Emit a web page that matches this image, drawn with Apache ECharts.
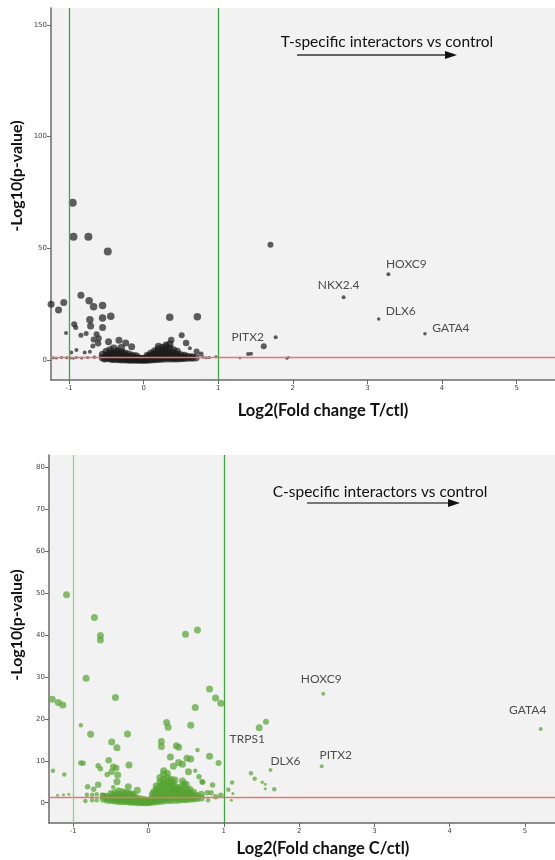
<!DOCTYPE html>
<html><head><meta charset="utf-8">
<script src="https://cdn.jsdelivr.net/npm/echarts@6/dist/echarts.min.js"></script>
<style>html,body{margin:0;padding:0;background:#fff}#c{width:555px;height:860px}</style>
</head><body><div id="c"></div>
<script>
// ---------- DATA ----------
const xTicks = [-1, 0, 1, 2, 3, 4, 5];
const yTicksT = [0, 50, 100, 150];
const yTicksC = [0, 10, 20, 30, 40, 50, 60, 70, 80];
const pThreshold = 1.3;
const foldLines = [-1, 1];

// T chart: [log2FC, -log10 p, size]
const topPoints = [
 [-0.95,70.4,8],[-0.94,55.2,8],[-0.74,55.2,8],[-0.48,48.6,8],
 [-0.84,29,7],[-0.73,26.5,7.5],[-0.67,23.8,7.5],[-0.55,24.4,7.5],
 [-1.24,25,7],[-1.14,22.4,7],[-1.07,25.7,7],
 [-0.72,18,7.5],[-0.55,18.8,7.5],[-0.44,19.6,7.5],[0.35,19.1,7.5],[0.72,19.4,7.5],
 [-0.93,16,6],[-0.91,14.6,5],[-0.71,15.2,7],[-0.55,14.6,7],
 [-1.04,12.1,4],[-0.84,11.1,5],[-0.77,11.9,5],[-0.63,11.5,6],
 [0.51,11.1,6],[0.37,9,6.5],[-0.67,9.2,6],[-0.60,9.7,6],[-0.61,7.5,6.5],[-0.47,8.2,7],
 [-0.33,8.8,7],[-0.24,7.6,7],[-0.16,5.9,7],[-0.68,6.3,5],[0.57,7.6,6.5],[0.30,6.7,7],
 [0.71,3.8,6],[0.62,5.2,4],[0.77,2.7,5],
 [-0.90,4.5,4],[-0.97,3.3,4],[-0.79,3.3,4],[-0.72,3.7,4],
 [-1.21,1.0,3],[-1.10,1.1,3],[-1.03,1.0,3],[-0.98,0.9,3],[-0.90,1.1,3],[-0.83,0.9,3],
 [-0.75,1.1,3],[-0.66,1.2,3.5],[-0.57,1.2,3.5],[-1.17,0.8,2.5],[-0.94,0.7,2.5],
 [0.80,1.2,3],[0.84,1.0,3],[0.88,1.1,3],[0.97,1.5,3],
 [1.29,0.9,2.5],[1.40,2.7,4],[1.44,2.8,4],[1.77,10.2,4],[1.70,51.6,6],[1.92,0.8,3],[1.94,1.2,2.5]
];
const topCloud = [
 [-0.55,1.0],[-0.55,2.5],[-0.52,0.6],[-0.50,0.8],[-0.50,2.0],[-0.50,3.8],[-0.47,1.2],
 [-0.45,0.5],[-0.45,1.8],[-0.45,3.0],[-0.45,4.5],[-0.42,0.4],[-0.42,2.2],
 [-0.40,0.3],[-0.40,1.5],[-0.40,2.8],[-0.40,5.2],[-0.37,0.9],[-0.37,3.4],
 [-0.35,0.2],[-0.35,1.2],[-0.35,2.5],[-0.35,4.0],[-0.32,0.5],[-0.32,1.8],
 [-0.30,0.1],[-0.30,1.0],[-0.30,2.2],[-0.30,3.5],[-0.30,5.5],[-0.27,0.4],[-0.27,2.6],
 [-0.25,0.1],[-0.25,0.8],[-0.25,1.8],[-0.25,3.0],[-0.22,0.3],[-0.22,1.2],
 [-0.20,0.0],[-0.20,0.6],[-0.20,1.5],[-0.20,2.6],[-0.17,0.2],[-0.17,1.0],
 [-0.15,0.0],[-0.15,0.5],[-0.15,1.2],[-0.15,2.0],[-0.12,0.2],[-0.12,0.8],
 [-0.10,0.0],[-0.10,0.4],[-0.10,1.0],[-0.10,1.8],[-0.07,0.1],[-0.07,0.6],
 [-0.05,0.0],[-0.05,0.3],[-0.05,0.8],[-0.02,0.1],[-0.02,0.4],
 [0.00,0.0],[0.00,0.2],[0.00,0.6],[0.02,0.1],[0.02,0.5],
 [0.05,0.0],[0.05,0.4],[0.05,1.0],[0.05,2.0],[0.07,0.2],[0.07,1.4],
 [0.10,0.1],[0.10,0.8],[0.10,1.8],[0.10,3.0],[0.12,0.4],[0.12,2.3],
 [0.15,0.2],[0.15,1.2],[0.15,2.5],[0.15,4.0],[0.17,0.6],[0.17,3.2],
 [0.20,0.3],[0.20,1.5],[0.20,3.0],[0.20,4.8],[0.20,6.0],[0.22,0.8],[0.22,2.2],
 [0.25,0.4],[0.25,1.8],[0.25,3.5],[0.25,5.5],[0.27,1.0],[0.27,2.7],[0.27,4.4],
 [0.30,0.5],[0.30,2.0],[0.30,3.8],[0.30,5.8],[0.32,1.2],[0.32,3.0],
 [0.35,0.5],[0.35,1.8],[0.35,3.5],[0.35,5.2],[0.35,7.0],[0.37,1.0],[0.37,2.6],
 [0.40,0.6],[0.40,1.5],[0.40,3.0],[0.40,4.5],[0.42,0.9],[0.42,2.1],
 [0.45,0.6],[0.45,1.4],[0.45,2.5],[0.45,3.8],[0.47,1.0],
 [0.50,0.7],[0.50,1.3],[0.50,2.2],[0.52,1.0],
 [0.55,0.8],[0.55,1.2],[0.55,2.0],
 [0.60,0.9],[0.60,1.5],[0.65,0.9],[0.65,1.3],[0.70,1.0]
];
// labelled genes: [name, log2FC, -log10 p, size]
const topGenes = [
 ['HOXC9',3.28,38.4,4],['NKX2.4',2.68,28.1,4],['DLX6',3.15,18.4,3.5],
 ['GATA4',3.77,11.8,3.5],['PITX2',1.61,6.1,6]
];

// C chart
const botPoints = [
 [-1.09,49.6,7],[-0.72,44.2,7],[-0.64,39.9,7],[-0.64,38.8,7],[0.49,40.2,7],[0.65,41.2,7],
 [-0.83,29.7,7],[-1.28,24.7,7],[-1.20,23.9,7],[-1.14,23.3,7],[-0.44,25.1,7],
 [0.81,27.1,7],[0.89,25.0,7],[0.96,23.7,7],[0.62,22.7,7],
 [0.24,19.1,7],[0.26,18.0,7],[0.56,18.5,7],[-0.90,18.5,4.5],[-0.77,16.3,7],[-0.28,16.4,7],
 [-0.49,14.5,7],[-0.42,13.1,7],[0.17,14.6,7],[0.17,13.4,7],[0.37,13.6,7],[0.40,13.2,7],[0.65,12.6,4.5],
 [0.81,11.1,7],[0.29,10.9,7],[0.51,10.6,7],[0.56,10.4,7],[0.93,9.5,6],
 [-0.90,9.5,5.5],[-0.87,9.4,5.5],[-0.53,10.1,6.5],[-0.47,8.6,6.5],[-0.43,8.3,6.5],[-0.49,7.4,6.5],
 [-0.26,9.0,7],[-0.67,8.8,5.5],[-0.64,8.1,5.5],
 [-1.27,7.6,4.5],[-1.12,6.7,4.5],[-0.55,6.7,5.5],[-0.41,6.6,7],[-0.42,5.0,7],[-0.67,4.3,6.5],
 [-0.81,3.8,5.5],[-0.73,3.2,5.5],[-0.47,3.7,4.5],[-0.27,3.8,7],[-0.15,3.0,7],
 [0.20,7.6,7],[0.33,8.7,7],[0.45,9.2,7],[0.40,9.6,7],[0.53,7.4,7],[0.62,7.6,4.5],[0.67,6.2,5.5],
 [0.71,5.0,5.5],[0.85,4.2,5.5],[0.72,4.9,5.5],
 [-1.21,1.8,3],[-1.13,1.9,3],[-1.06,2.0,3],[-0.82,1.9,4.5],[-0.75,1.9,4.5],[-0.69,2.0,4.5],
 [-0.62,1.9,4.5],[-0.58,1.8,4.5],[-0.84,0.4,4.5],[-0.75,0.6,4.5],[-0.69,0.6,4.5],
 [0.78,2.4,5.5],[0.83,2.4,5.5],[0.89,1.4,5.5],[0.96,1.8,5.5],[0.79,0.6,4.5],
 [1.06,3.1,4.5],[1.11,4.8,4.5],[1.12,2.2,3],[1.10,0.6,3],
 [1.36,7.0,4.5],[1.41,5.7,4.5],[1.51,4.9,3.5],[1.55,4.4,3],[1.55,3.3,3],[1.67,3.2,4.5],[1.56,19.3,6]
];
const botCloud = [
 [-0.60,0.8],[-0.60,1.6],[-0.57,1.2],[-0.55,0.6],[-0.55,1.5],[-0.52,0.9],
 [-0.50,0.5],[-0.50,1.3],[-0.50,2.2],[-0.47,0.8],[-0.47,1.7],[-0.45,0.4],[-0.45,1.2],[-0.45,2.4],
 [-0.42,0.6],[-0.42,1.6],[-0.40,0.3],[-0.40,1.0],[-0.40,2.0],[-0.40,2.8],[-0.37,0.6],[-0.37,1.4],
 [-0.35,0.2],[-0.35,0.9],[-0.35,1.8],[-0.35,2.6],[-0.32,0.5],[-0.32,1.3],[-0.32,2.2],
 [-0.30,0.2],[-0.30,0.8],[-0.30,1.6],[-0.30,2.4],[-0.27,0.4],[-0.27,1.2],[-0.27,2.0],
 [-0.25,0.1],[-0.25,0.7],[-0.25,1.4],[-0.25,2.2],[-0.22,0.3],[-0.22,1.0],[-0.22,1.8],
 [-0.20,0.1],[-0.20,0.6],[-0.20,1.3],[-0.20,2.0],[-0.17,0.3],[-0.17,0.9],
 [-0.15,0.0],[-0.15,0.5],[-0.15,1.1],[-0.12,0.2],[-0.12,0.7],[-0.10,0.0],[-0.10,0.4],[-0.10,0.9],
 [-0.07,0.1],[-0.07,0.5],[-0.05,0.0],[-0.05,0.3],[-0.05,0.7],[-0.02,0.1],[0.00,0.0],[0.00,0.2],[0.00,0.5],
 [0.02,0.2],[0.02,0.7],[0.05,0.1],[0.05,0.5],[0.05,1.2],[0.05,2.0],[0.07,0.3],[0.07,1.5],[0.07,2.6],
 [0.10,0.2],[0.10,0.9],[0.10,1.8],[0.10,3.0],[0.10,4.0],[0.12,0.5],[0.12,1.3],[0.12,2.4],[0.12,3.5],
 [0.15,0.3],[0.15,1.2],[0.15,2.4],[0.15,3.6],[0.15,5.0],[0.15,6.0],[0.17,0.7],[0.17,1.8],[0.17,3.0],[0.17,4.4],
 [0.20,0.4],[0.20,1.5],[0.20,2.8],[0.20,4.2],[0.20,5.6],[0.20,6.8],[0.22,0.9],[0.22,2.1],[0.22,3.5],[0.22,4.9],
 [0.25,0.5],[0.25,1.6],[0.25,3.0],[0.25,4.5],[0.25,6.0],[0.25,7.0],[0.27,1.0],[0.27,2.3],[0.27,3.7],[0.27,5.2],
 [0.30,0.5],[0.30,1.7],[0.30,3.0],[0.30,4.3],[0.30,5.6],[0.32,1.1],[0.32,2.4],[0.32,3.6],[0.32,4.9],
 [0.35,0.6],[0.35,1.7],[0.35,2.9],[0.35,4.0],[0.35,5.4],[0.37,1.1],[0.37,2.2],[0.37,3.3],
 [0.40,0.6],[0.40,1.6],[0.40,2.7],[0.40,3.6],[0.42,1.0],[0.42,2.1],[0.42,3.1],
 [0.45,0.7],[0.45,1.6],[0.45,2.6],[0.45,3.8],[0.45,5.2],[0.47,1.1],[0.47,2.0],[0.47,4.5],
 [0.50,0.7],[0.50,1.5],[0.50,2.4],[0.50,3.4],[0.50,4.4],[0.52,1.1],[0.52,1.9],[0.52,2.9],
 [0.55,0.8],[0.55,1.5],[0.55,2.3],[0.55,3.2],[0.57,1.2],[0.57,2.0],
 [0.60,0.9],[0.60,1.6],[0.60,2.5],[0.62,1.3],[0.65,1.0],[0.65,1.7],[0.70,1.1],[0.70,2.0]
];
const botGenes = [
 ['HOXC9',2.32,26.0,4],['GATA4',5.21,17.6,4],['TRPS1',1.47,17.9,7],
 ['DLX6',1.62,7.8,4],['PITX2',2.30,8.7,4]
];

// ---------- STYLE / LAYOUT ----------
const labelOffsetT = {HOXC9:[18,-10],'NKX2.4':[-5,-12],DLX6:[22,-8],GATA4:[26,-6],PITX2:[-16,-9]};
const labelOffsetC = {HOXC9:[-2,-15],GATA4:[-13,-19],TRPS1:[-12,11],DLX6:[15,-9],PITX2:[14,-11]};
const FONT = 'Lato';
const axisCol = '#6a6a6a';

function xAxisCfg(idx, min, max) {
  return {type:'value', gridIndex:idx, min:min, max:max,
    axisLine:{show:true, onZero:false, lineStyle:{color:axisCol, width:1.5}},
    axisTick:{show:true, length:4, customValues:xTicks, lineStyle:{color:axisCol}},
    axisLabel:{customValues:xTicks, fontSize:7, color:'#444', margin:5, fontFamily:'DejaVu Sans'},
    splitLine:{show:false}};
}
function yAxisCfg(idx, min, max, ticks) {
  return {type:'value', gridIndex:idx, min:min, max:max,
    axisLine:{show:true, onZero:false, lineStyle:{color:axisCol, width:1.5}},
    axisTick:{show:true, length:4, customValues:ticks, lineStyle:{color:axisCol}},
    axisLabel:{customValues:ticks, fontSize:7, color:'#444', margin:4, fontFamily:'DejaVu Sans'},
    splitLine:{show:false}};
}
function lineSeries(xi, item, color, z) {
  return {type:'scatter', xAxisIndex:xi, yAxisIndex:xi, data:[], z:z, silent:true,
    markLine:{silent:true, symbol:['none','none'], animation:false, label:{show:false},
      lineStyle:{color:color, width:1.3, type:'solid', opacity:1},
      emphasis:{disabled:true},
      data:[item]}};
}
function geneSeries(xi, genes, offs, color) {
  return {type:'scatter', xAxisIndex:xi, yAxisIndex:xi, animation:false,
    symbolSize:d=>d[2],
    itemStyle:{color:color},
    data:genes.map(g=>({name:g[0], value:[g[1],g[2],g[3]],
      label:{show:true, position:'inside', offset:offs[g[0]], formatter:'{b}',
        fontSize:12, color:'#222', fontFamily:FONT}}))};
}

const chart = echarts.init(document.getElementById('c'), null, {renderer:'canvas'});
const blk = 'rgba(28,28,28,0.88)';
const grn = 'rgba(86,164,50,0.88)';
chart.setOption({
  animation:false,
  grid:[
    {left:51, top:8, right:0, height:372, show:true, backgroundColor:'#f2f2f2', borderWidth:0},
    {left:49, top:455, right:0, height:368, show:true, backgroundColor:'#f2f2f2', borderWidth:0}
  ],
  xAxis:[xAxisCfg(0,-1.241,5.513), xAxisCfg(1,-1.323,5.40)],
  yAxis:[yAxisCfg(0,-8.96,157.6,yTicksT), yAxisCfg(1,-4.84,82.93,yTicksC)],
  series:[
    lineSeries(0, {yAxis:pThreshold}, '#e87474', 1),
    {type:'scatter', xAxisIndex:0, yAxisIndex:0, symbolSize:7.5, itemStyle:{color:blk}, data:topCloud, z:2},
    {type:'scatter', xAxisIndex:0, yAxisIndex:0, symbolSize:d=>d[2], itemStyle:{color:blk}, data:topPoints, z:2},
    geneSeries(0, topGenes, labelOffsetT, blk),
    lineSeries(0, {xAxis:foldLines[0]}, '#3fa73f', 3),
    lineSeries(0, {xAxis:foldLines[1]}, '#3fa73f', 3),
    lineSeries(1, {yAxis:pThreshold}, '#e87474', 1),
    {type:'scatter', xAxisIndex:1, yAxisIndex:1, symbolSize:7, itemStyle:{color:grn}, data:botCloud, z:2},
    {type:'scatter', xAxisIndex:1, yAxisIndex:1, symbolSize:d=>d[2], itemStyle:{color:grn}, data:botPoints, z:2},
    geneSeries(1, botGenes, labelOffsetC, grn),
    lineSeries(1, {xAxis:foldLines[0]}, '#8fcf8f', 3),
    lineSeries(1, {xAxis:foldLines[1]}, '#3fa73f', 3)
  ],
  graphic:[
    {type:'text', x:17, y:176, rotation:Math.PI/2, style:{text:'-Log10(p-value)', font:'bold 16px '+FONT, fill:'#111', align:'center', verticalAlign:'middle'}},
    {type:'text', x:17, y:625, rotation:Math.PI/2, style:{text:'-Log10(p-value)', font:'bold 16px '+FONT, fill:'#111', align:'center', verticalAlign:'middle'}},
    {type:'text', x:323, y:411, style:{text:'Log2(Fold change T/ctl)', font:'bold 16.5px '+FONT, fill:'#111', align:'center', verticalAlign:'middle'}},
    {type:'text', x:323, y:849, style:{text:'Log2(Fold change C/ctl)', font:'bold 16.5px '+FONT, fill:'#111', align:'center', verticalAlign:'middle'}},
    {type:'text', x:387, y:42, style:{text:'T-specific interactors vs control', font:'15.5px '+FONT, fill:'#111', align:'center', verticalAlign:'middle'}},
    {type:'text', x:380, y:492, style:{text:'C-specific interactors vs control', font:'15.5px '+FONT, fill:'#111', align:'center', verticalAlign:'middle'}},
    {type:'line', shape:{x1:297, y1:55, x2:447, y2:55}, style:{stroke:'#333', lineWidth:1.5}},
    {type:'polygon', shape:{points:[[445,51],[457,55],[445,59]]}, style:{fill:'#111'}},
    {type:'line', shape:{x1:307, y1:503, x2:450, y2:503}, style:{stroke:'#777', lineWidth:1.8}},
    {type:'polygon', shape:{points:[[448,499],[460,503],[448,507]]}, style:{fill:'#111'}}
  ]
});
</script></body></html>
